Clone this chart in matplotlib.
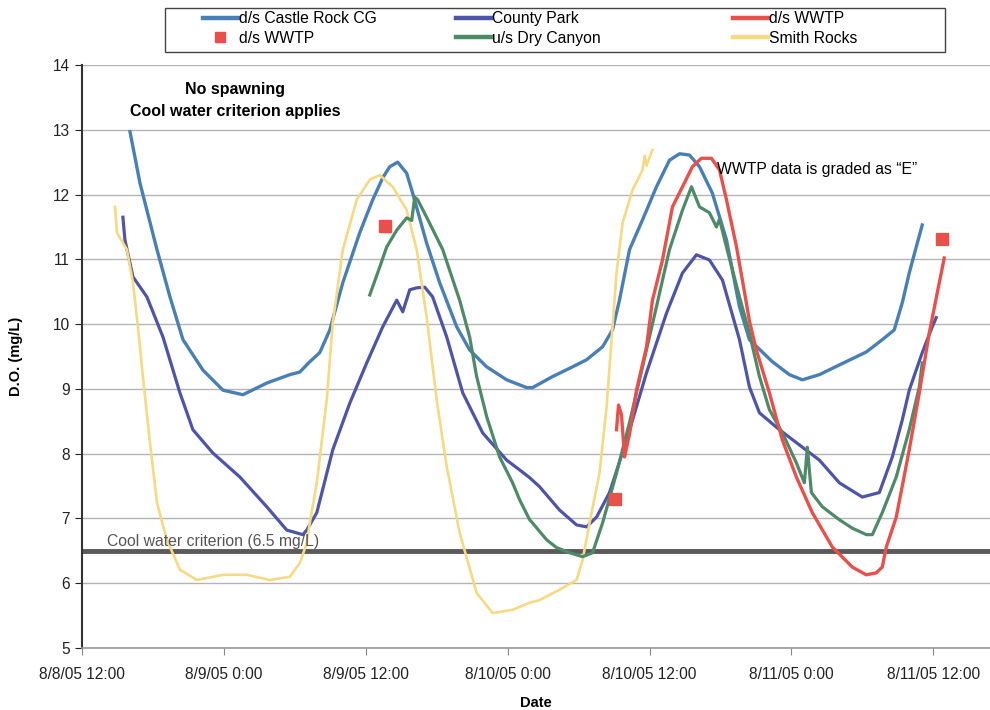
import matplotlib
matplotlib.use("Agg")
import matplotlib.pyplot as plt
import matplotlib.dates as mdates
from matplotlib.lines import Line2D
from matplotlib.patches import Rectangle
from matplotlib.ticker import FuncFormatter
import pandas as pd

plt.rcParams['font.family'] = ['Liberation Sans', 'DejaVu Sans']

# hours elapsed since 8/8/05 12:00, dissolved oxygen in mg/L
start = pd.Timestamp("2005-08-08 12:00")

castle_h = [4.06, 4.90, 6.34, 7.44, 8.54, 10.23, 11.92, 13.61, 15.63, 17.58, 18.42, 19.27,
            20.11, 20.96, 22.06, 23.49, 24.59, 25.44, 26.03, 26.70, 27.46, 27.97, 29.15,
            30.25, 31.69, 32.79, 34.23, 35.92, 37.61, 38.11, 39.80, 41.49, 42.68, 44.03,
            44.87, 45.46, 46.31, 47.41, 48.59, 49.69, 50.54, 51.38, 52.23, 53.32, 54.51,
            55.61, 56.45, 58.39, 59.83, 60.93, 62.37, 64.06, 66.34, 67.69, 68.70, 69.38,
            69.97, 70.56, 71.07]
castle_v = [12.97, 12.18, 11.15, 10.42, 9.76, 9.29, 8.98, 8.91, 9.09, 9.22, 9.26, 9.42,
            9.56, 9.91, 10.64, 11.41, 11.92, 12.26, 12.43, 12.50, 12.33, 12.02, 11.25,
            10.64, 9.96, 9.60, 9.34, 9.14, 9.02, 9.02, 9.19, 9.34, 9.45, 9.65,
            9.91, 10.37, 11.15, 11.61, 12.12, 12.53, 12.63, 12.61, 12.43, 12.02, 11.30,
            10.27, 9.76, 9.42, 9.22, 9.14, 9.22, 9.37, 9.57, 9.76, 9.91, 10.33,
            10.79, 11.19, 11.53]

county_h = [3.46, 3.63, 4.31, 5.49, 6.85, 8.28, 9.38, 11.07, 13.35, 15.63, 17.32, 18.68,
            19.01, 19.86, 21.21, 22.65, 24.08, 25.44, 26.62, 27.13, 27.72, 28.31, 28.99,
            29.66, 30.85, 32.20, 33.89, 35.92, 37.01, 37.86, 38.70, 40.39, 41.83, 42.68,
            43.52, 44.62, 46.06, 47.75, 49.44, 50.79, 51.97, 53.07, 54.17, 55.61, 56.45,
            57.30, 58.99, 60.93, 62.37, 64.06, 66.00, 67.44, 68.54, 69.38, 69.97, 71.07,
            71.92, 72.25]
county_v = [11.65, 11.30, 10.73, 10.42, 9.80, 8.94, 8.37, 8.01, 7.64, 7.18, 6.82, 6.75,
            6.82, 7.09, 8.06, 8.78, 9.40, 9.96, 10.37, 10.19, 10.53, 10.56, 10.57,
            10.42, 9.80, 8.94, 8.32, 7.90, 7.75, 7.63, 7.49, 7.13, 6.90, 6.87,
            7.02, 7.40, 8.21, 9.25, 10.17, 10.79, 11.07, 10.99, 10.68, 9.76, 9.03,
            8.63, 8.37, 8.10, 7.90, 7.55, 7.33, 7.40, 7.95, 8.52, 8.98, 9.56,
            9.96, 10.10]

wwtp_h = [45.21, 45.38, 45.63, 45.89, 46.31, 46.90, 47.75, 48.25, 49.10, 49.94, 50.79,
          51.63, 52.39, 53.24, 53.92, 54.51, 55.35, 56.03, 56.45, 57.04, 58.14, 59.24,
          60.42, 61.77, 63.46, 65.15, 66.34, 67.18, 67.69, 68.03, 68.87, 69.97, 70.82,
          71.66, 72.51, 72.93]
wwtp_v = [8.37, 8.75, 8.60, 7.95, 8.30, 8.98, 9.65, 10.37, 10.99, 11.81, 12.12,
          12.43, 12.56, 12.56, 12.38, 11.92, 11.20, 10.50, 10.05, 9.60, 8.94, 8.21,
          7.64, 7.09, 6.56, 6.25, 6.13, 6.16, 6.25, 6.56, 7.02, 8.06, 8.94,
          9.86, 10.64, 11.02]

wwtp_grab_h = [25.61, 45.04, 72.76]
wwtp_grab_v = [11.52, 7.30, 11.31]

dry_h = [24.34, 25.18, 25.77, 26.62, 27.46, 27.89, 28.14, 28.39, 29.15, 30.51, 31.94,
         32.79, 33.38, 34.23, 35.32, 36.42, 37.01, 37.86, 38.11, 39.30, 40.14, 41.24,
         42.34, 43.18, 44.03, 45.21, 46.31, 47.41, 48.59, 49.69, 50.79, 51.55, 52.23,
         53.07, 53.66, 53.92, 54.51, 55.61, 56.45, 57.30, 58.14, 59.24, 60.42, 61.10,
         61.35, 61.69, 62.62, 64.06, 65.15, 66.34, 66.85, 67.69, 68.87, 69.97, 70.82,
         71.07]
dry_v = [10.45, 10.88, 11.19, 11.45, 11.64, 11.60, 11.96, 11.92, 11.65, 11.15, 10.37,
         9.80, 9.19, 8.57, 7.95, 7.55, 7.29, 6.98, 6.93, 6.67, 6.55, 6.47,
         6.41, 6.47, 6.93, 7.70, 8.48, 9.34, 10.27, 11.15, 11.76, 12.12, 11.81,
         11.72, 11.50, 11.62, 11.19, 10.42, 9.86, 9.19, 8.68, 8.32, 7.86, 7.55,
         8.10, 7.40, 7.18, 6.98, 6.85, 6.75, 6.75, 7.09, 7.64, 8.37, 9.03,
         9.40]

smith_h = [2.79, 2.96, 3.80, 4.31, 4.73, 5.15, 5.75, 6.34, 7.18, 8.28, 9.72, 11.92,
           13.94, 15.89, 17.58, 18.42, 19.01, 19.27, 19.86, 20.70, 21.21, 22.06, 23.24,
           24.34, 25.18, 26.28, 27.46, 28.31, 29.15, 30.00, 30.85, 31.94, 33.38, 34.73,
           36.42, 37.86, 38.70, 40.39, 41.83, 42.34, 42.93, 43.77, 44.37, 44.79, 45.21,
           45.72, 46.56, 47.41, 47.60, 47.75, 48.25]
smith_v = [11.81, 11.41, 11.15, 10.64, 9.96, 9.19, 8.17, 7.24, 6.67, 6.21, 6.05, 6.13,
           6.13, 6.05, 6.10, 6.31, 6.62, 6.93, 7.55, 8.83, 10.02, 11.15, 11.92,
           12.23, 12.30, 12.12, 11.76, 11.15, 10.11, 8.83, 7.80, 6.78, 5.85, 5.54,
           5.59, 5.70, 5.74, 5.90, 6.05, 6.36, 6.93, 7.70, 8.72, 9.76, 10.79,
           11.56, 12.07, 12.38, 12.60, 12.45, 12.69]

criterion = 6.5


def when(hours):
    return start + pd.to_timedelta(hours, unit="h")


W, H = 990, 710
fig = plt.figure(figsize=(W / 100, H / 100), dpi=100)
ax = fig.add_axes([82 / W, 1 - 648 / H, 1 - 82 / W, (648 - 65) / H])

c_castle = "#4a7fb4"
c_county = "#4f55a6"
c_wwtp = "#e8504c"
c_dry = "#4f8a68"
c_smith = "#f6d985"

ax.plot(when(castle_h), castle_v, color=c_castle, lw=2.4)
ax.plot(when(county_h), county_v, color=c_county, lw=2.3)
ax.plot(when(smith_h), smith_v, color=c_smith, lw=1.9)
ax.plot(when(dry_h), dry_v, color=c_dry, lw=2.3)
ax.plot(when(wwtp_h), wwtp_v, color=c_wwtp, lw=2.4)
ax.plot(when(wwtp_grab_h), wwtp_grab_v, ls="none", marker="s", ms=9,
        color=c_wwtp, mec=c_wwtp)

ax.axhline(criterion, color="#5a5a5a", lw=3.5, zorder=1)
ax.text(when(2.1), criterion + 0.03, "Cool water criterion (6.5 mg/L)",
        color="#555555", fontsize=11.3, va="bottom", ha="left")

ax.text(when(12.93), 13.45, "No spawning\nCool water criterion applies",
        ha="center", va="center", fontsize=11.5, fontweight="bold", linespacing=1.55)
ax.text(when(53.75), 12.38, "WWTP data is graded as \u201cE\u201d",
        ha="left", va="center", fontsize=11.3)

ax.set_ylim(5, 14)
ax.set_yticks(range(5, 15))
ax.set_xlim(when(0), when(76.8))
ax.xaxis.set_major_locator(mdates.HourLocator(byhour=[0, 12]))
ax.xaxis.set_major_formatter(FuncFormatter(
    lambda v, _: (lambda d: f"{d.month}/{d.day}/{d:%y} {d.hour}:{d:%M}")(mdates.num2date(v))))

ax.yaxis.grid(True, color="#b4b4b4", lw=1)
ax.set_axisbelow(True)
for s in ("top", "right"):
    ax.spines[s].set_visible(False)
ax.spines["left"].set_color("#333333")
ax.spines["left"].set_linewidth(1.5)
ax.spines["bottom"].set_color("#999999")
ax.spines["bottom"].set_linewidth(1.2)
ax.tick_params(axis="both", direction="out", length=5, labelsize=11.2, colors="#222222")
ax.tick_params(axis="x", pad=9, colors="#888888", labelcolor="#222222")

ax.set_ylabel("D.O. (mg/L)", fontsize=10.5, fontweight="bold", labelpad=22)
ax.set_xlabel("Date", fontsize=10.5, fontweight="bold", labelpad=10)

# legend: three two-row columns inside one box
fig.add_artist(Rectangle((165 / W, 1 - 52 / H), 780 / W, 44 / H, transform=fig.transFigure,
                         fill=False, edgecolor="#444444", lw=1.0))
columns = [
    (203, [Line2D([], [], color=c_castle, lw=3.2),
           Line2D([], [], ls="none", marker="s", ms=7, color=c_wwtp)],
     ["d/s Castle Rock CG", "d/s WWTP"]),
    (456, [Line2D([], [], color=c_county, lw=3.2), Line2D([], [], color=c_dry, lw=3.2)],
     ["County Park", "u/s Dry Canyon"]),
    (733, [Line2D([], [], color=c_wwtp, lw=3.2), Line2D([], [], color=c_smith, lw=3.2)],
     ["d/s WWTP", "Smith Rocks"]),
]
for x0, hs, ls in columns:
    fig.legend(hs, ls, loc="upper left", bbox_to_anchor=(x0 / W, 1 - 11 / H),
               frameon=False, fontsize=11.3, handlelength=2.2, handletextpad=0.1,
               borderpad=0, borderaxespad=0, labelspacing=0.3)

fig.savefig("out.png", dpi=100)
